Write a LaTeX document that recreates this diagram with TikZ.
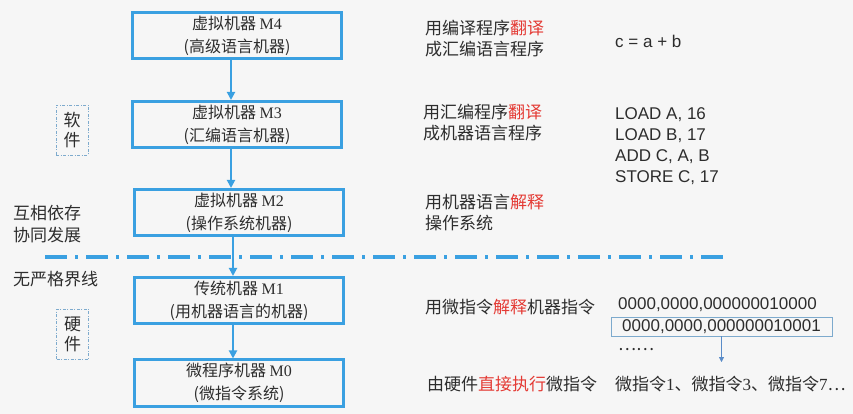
\documentclass[tikz,border=0pt]{standalone}
\usepackage{fontspec}
\setmainfont{Liberation Serif}
\setsansfont{Liberation Sans}
\newfontfamily\cjk{Noto Sans CJK SC}
\usetikzlibrary{arrows.meta}

\definecolor{boxblue}{RGB}{58,160,225}
\definecolor{txtgray}{RGB}{45,45,45}
\definecolor{hlred}{RGB}{228,58,52}
\definecolor{framegray}{RGB}{125,170,205}
\definecolor{steel}{RGB}{90,140,200}
\definecolor{paper}{RGB}{246,246,246}

\begin{document}
\begin{tikzpicture}[x=1pt, y=-1pt,
    machine/.style={draw=boxblue, line width=2.6pt, minimum width=209pt, minimum height=46.5pt,
        inner sep=0pt, align=center, text=txtgray, font=\cjk\fontsize{16}{23}\selectfont},
    note/.style={anchor=west, inner sep=0pt, align=left, text=txtgray,
        font=\cjk\fontsize{17}{21.5}\selectfont},
    code/.style={anchor=west, inner sep=0pt, align=left, text=txtgray,
        font=\sffamily\fontsize{17}{21}\selectfont},
    sidebox/.style={draw=framegray, thin, dash pattern=on 3pt off 1.5pt on 1pt off 1.5pt,
        minimum width=32pt, minimum height=50pt, align=center, text=txtgray,
        font=\cjk\fontsize{17}{20}\selectfont},
    flow/.style={draw=boxblue, line width=2.2pt, -{Triangle[length=8pt,width=8pt]}}]

    \useasboundingbox (0,0) rectangle (853,414);
    \fill[paper] (0,0) rectangle (853,414);

    % machine levels
    \node[machine] (m4) at (237,35.5) {虚拟机器 {\rmfamily M4}\\(高级语言机器)};
    \node[machine] (m3) at (237,124.5) {虚拟机器 {\rmfamily M3}\\(汇编语言机器)};
    \node[machine] (m2) at (239,212.5) {虚拟机器 {\rmfamily M2}\\(操作系统机器)};
    \node[machine] (m1) at (239,300.5) {传统机器 {\rmfamily M1}\\(用机器语言的机器)};
    \node[machine] (m0) at (239,383) {微程序机器 {\rmfamily M0}\\(微指令系统)};

    \draw[flow] ([xshift=-6pt]m4.south) -- ([xshift=-6pt]m3.north);
    \draw[flow] ([xshift=-6pt]m3.south) -- ([xshift=-8pt]m2.north);
    \draw[flow] ([xshift=-6pt]m2.south) -- ([xshift=-6pt]m1.north);
    \draw[flow] ([xshift=-6pt]m1.south) -- ([xshift=-6pt]m0.north);

    % software / hardware boundary
    \draw[boxblue, line width=3.5pt, dash pattern=on 22pt off 8pt on 3pt off 8pt] (45,257) -- (724,257);

    % left side
    \node[sidebox] (soft) at (72,130) {软\\件};
    \node[sidebox] (hard) at (72.5,334) {硬\\件};
    \node[note] (depend) at (13,224) {互相依存\\协同发展};
    \node[note] (noline) at (13,279) {无严格界线};

    % right side
    \node[note] (t4) at (425,38.5) {用编译程序\textcolor{hlred}{翻译}\\成汇编语言程序};
    \node[note] (t3) at (423,122.5) {用汇编程序\textcolor{hlred}{翻译}\\成机器语言程序};
    \node[note] (t2) at (425,212.5) {用机器语言\textcolor{hlred}{解释}\\操作系统};
    \node[note] (t1) at (425,307) {用微指令\textcolor{hlred}{解释}机器指令};
    \node[note] (t0) at (427,384) {由硬件\textcolor{hlred}{直接执行}微指令};

    \node[code] (c4) at (615,41) {c = a + b};
    \node[code] (c3) at (615,146.5) {LOAD A, 16\\LOAD B, 17\\ADD C, A, B\\STORE C, 17};
    \node[code] (bin1) at (618,305) {0000,0000,000000010000};
    \node[code, anchor=center, draw=framegray, thin, minimum width=221pt, minimum height=19pt]
        (bin2) at (721.5,326.5) {0000,0000,000000010001};
    \node[note] (dots) at (618,350) {……};
    \node[note] (micro) at (615,384) {微指令{\rmfamily 1}、微指令{\rmfamily 3}、微指令{\rmfamily 7}…};

    \coordinate (binend) at (721.5,362);
    \draw[steel, thin, -{Triangle[length=5pt,width=5pt]}] (bin2.south) -- (binend);
\end{tikzpicture}
\end{document}
